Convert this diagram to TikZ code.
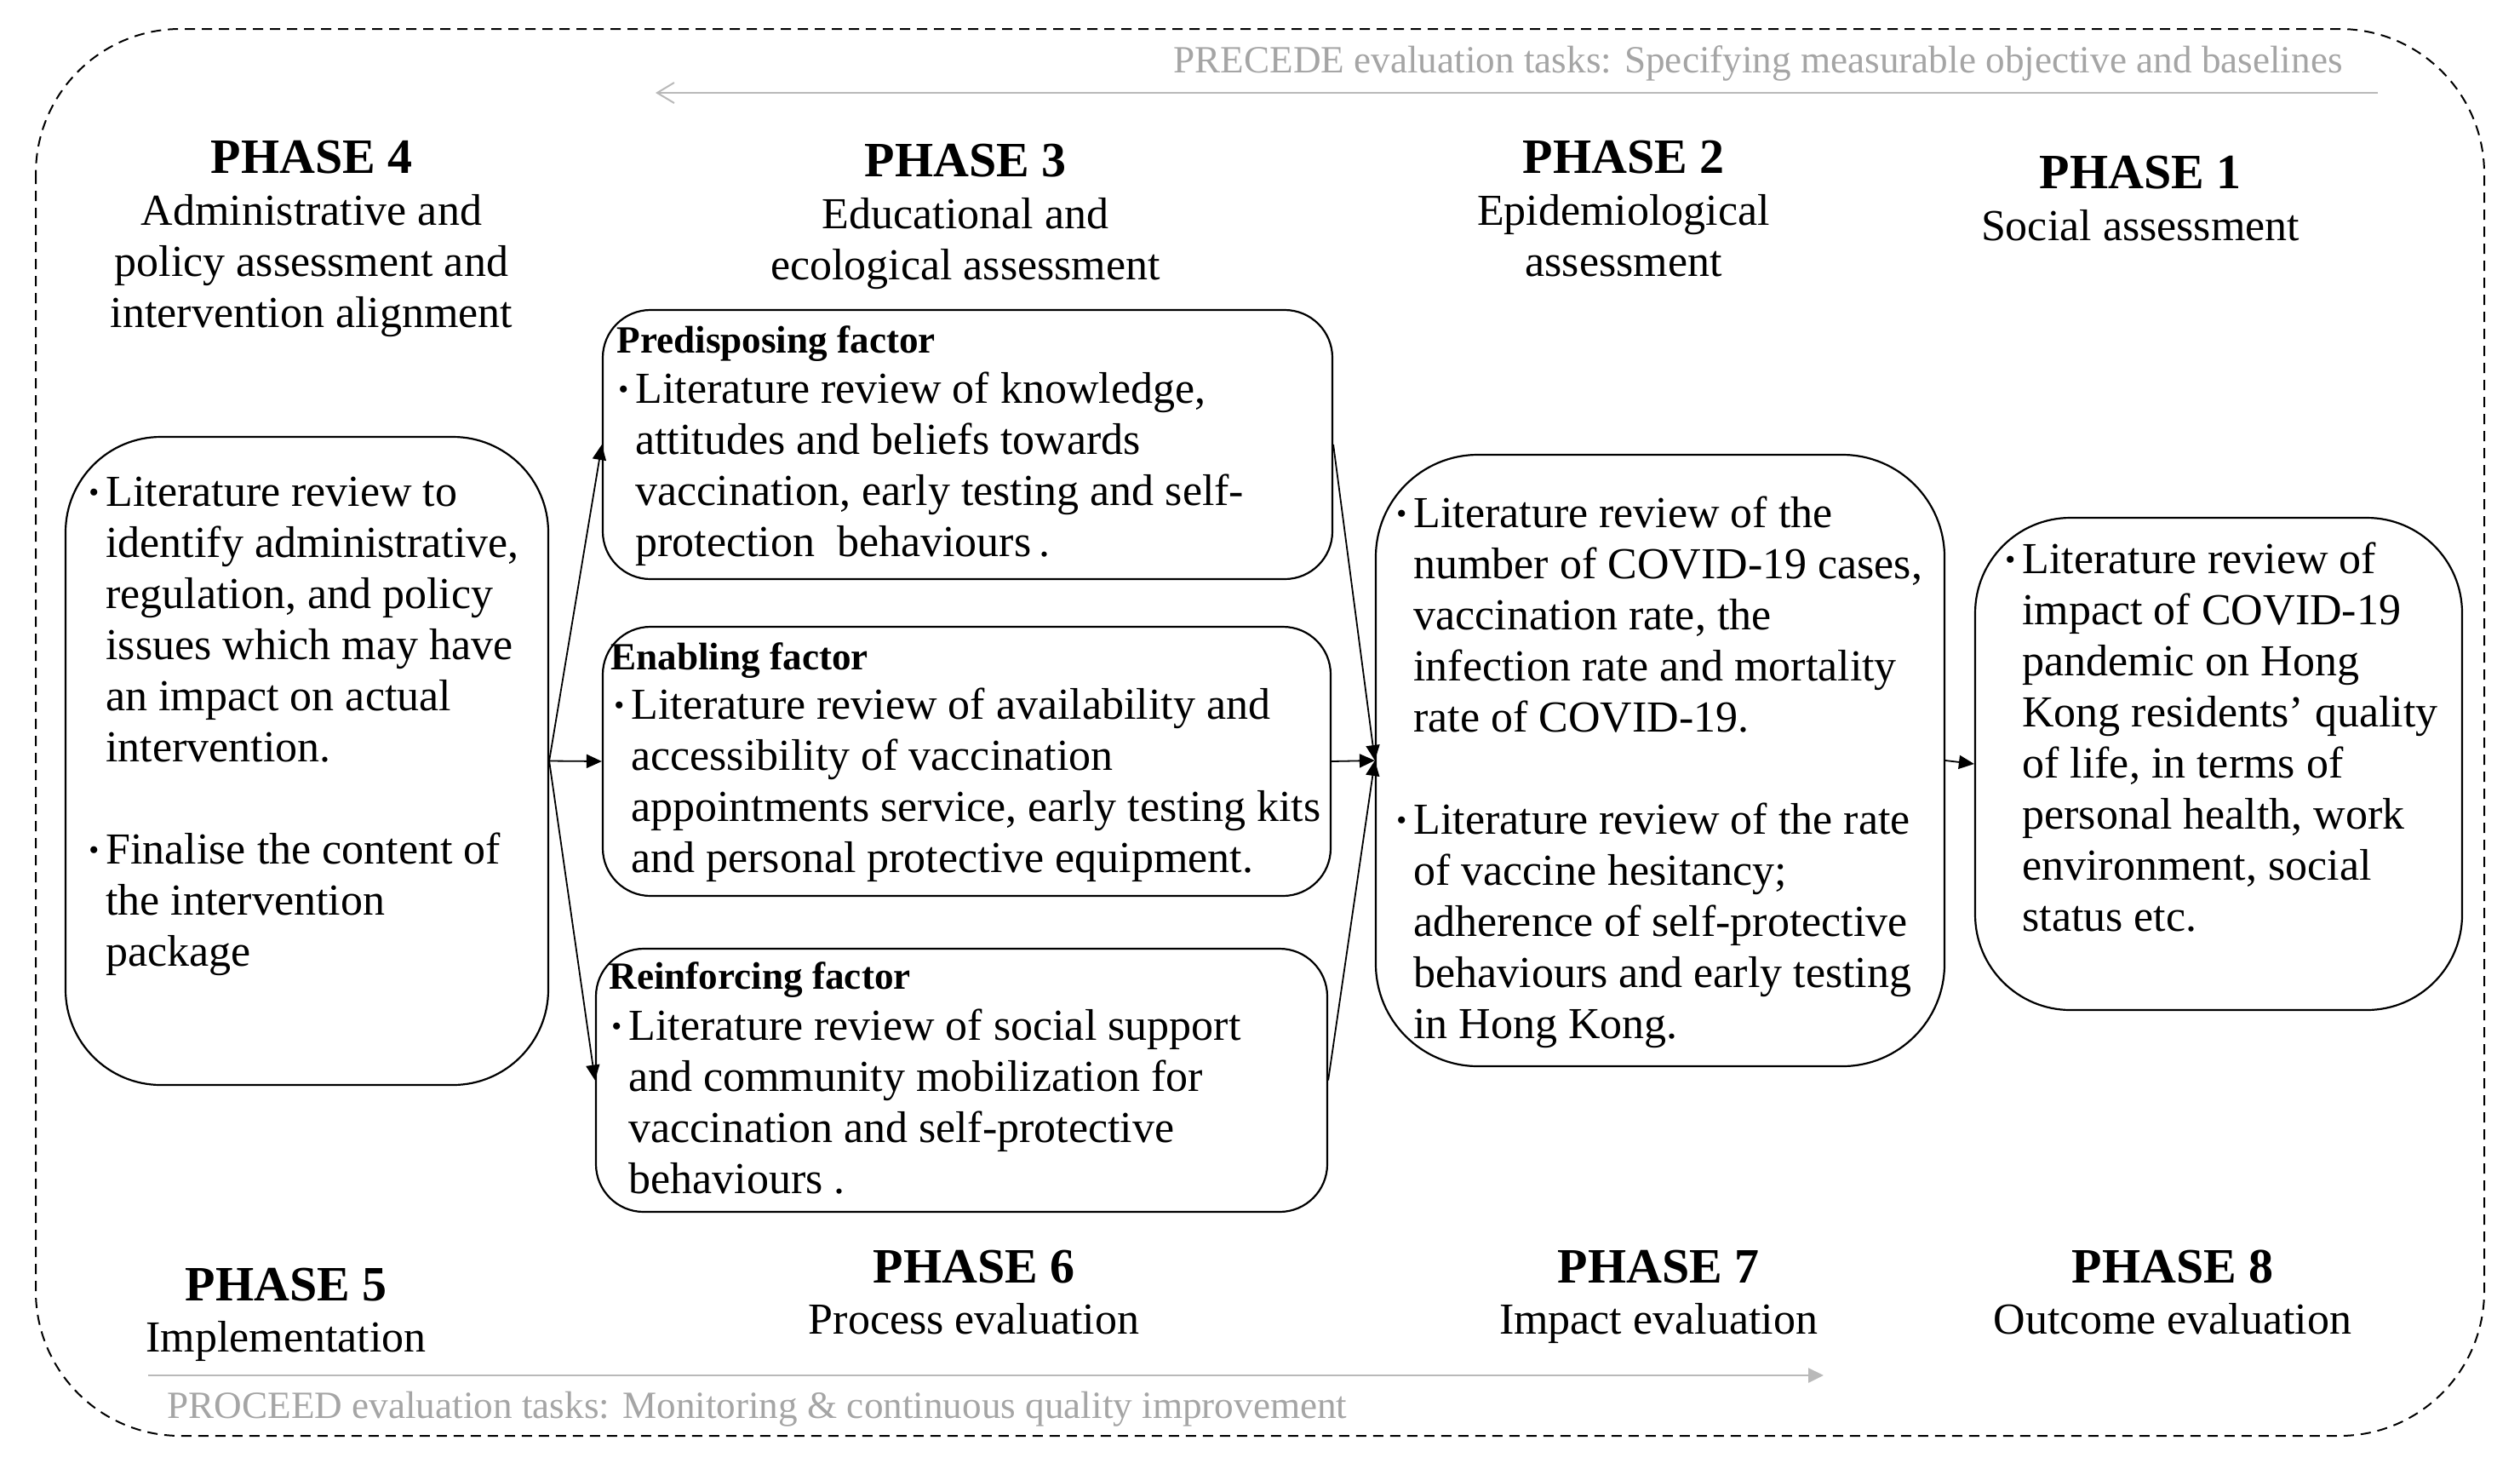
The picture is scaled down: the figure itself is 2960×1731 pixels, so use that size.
\documentclass[tikz,border=0pt]{standalone}
\usepackage{fontspec}
\setmainfont{Liberation Serif}
\usetikzlibrary{arrows.meta}
\definecolor{gtext}{RGB}{165,165,165}
\definecolor{gline}{RGB}{185,185,185}
\newcommand\fbody{\fontsize{26pt}{30pt}\selectfont}
\newcommand\fhead{\fontsize{29pt}{30pt}\selectfont\bfseries}
\newcommand\fsmall{\fontsize{22.6pt}{27pt}\selectfont}
\newcommand\bulx{\makebox[10pt][l]{\raisebox{2.5pt}{\fontsize{17pt}{17pt}\selectfont\textbullet}}}
\newcommand\indx{\hspace*{10pt}}
\newcommand\fst{\rule{0pt}{25pt}}
\begin{document}
\begin{tikzpicture}[x=0.5pt,y=-0.5pt,
  box/.style={draw, line width=1.1pt, inner sep=0pt},
  txt/.style={align=left, anchor=north west, yshift=25pt, inner sep=0pt, font=\fbody},
  head/.style={anchor=base, inner sep=0pt, font=\fhead},
  sub/.style={align=center, anchor=north, yshift=25pt, inner sep=0pt, font=\fbody},
  ftitle/.style={anchor=base west, inner sep=0pt, font=\fsmall\bfseries},
  arr/.style={line width=0.9pt, -{Triangle[length=9pt,width=8pt]}},
  gnote/.style={inner sep=0pt, font=\fsmall, text=gtext}]
\useasboundingbox (0,0) rectangle (2960,1731);

% outer dashed frame
\draw[line width=1pt, dash pattern=on 6pt off 4pt, rounded corners=85pt]
  (42,34) rectangle (2918,1686);

% boxes
\node[box, minimum width=283.5pt, minimum height=380.5pt, rounded corners=56pt] (p4box) at (360.5,893.5) {};
\node[box, minimum width=428.5pt, minimum height=158pt, rounded corners=28pt] (predis) at (1136.5,522) {};
\node[box, minimum width=427.5pt, minimum height=158pt, rounded corners=28pt] (enab) at (1135.5,894) {};
\node[box, minimum width=429.5pt, minimum height=154.5pt, rounded corners=28pt] (reinf) at (1129.5,1268.5) {};
\node[box, minimum width=334pt, minimum height=359pt, rounded corners=60pt] (p2box) at (1950,893) {};
\node[box, minimum width=286pt, minimum height=289pt, rounded corners=56pt] (p1box) at (2606,897) {};

% arrows
\draw[arr] (p4box.east) -- (predis.west);
\draw[arr] (p4box.east) -- (enab.west);
\draw[arr] (p4box.east) -- (reinf.west);
\draw[arr] (predis.east) -- (p2box.west);
\draw[arr] (enab.east) -- (p2box.west);
\draw[arr] (reinf.east) -- (p2box.west);
\draw[arr] (p2box.east) -- (p1box.west);

% headings
\node[head] (h4) at (366,203.5) {PHASE 4};
\node[sub] (s4) at (366,264) {\fst Administrative and\\policy assessment and\\intervention alignment};
\node[head] (h3) at (1134,207) {PHASE 3};
\node[sub] (s3) at (1134,268) {\fst Educational and\\ecological assessment};
\node[head] (h2) at (1907,203.5) {PHASE 2};
\node[sub] (s2) at (1907,264) {\fst Epidemiological\\assessment};
\node[head] (h1) at (2514,221) {PHASE 1};
\node[sub] (s1) at (2514,282) {\fst Social assessment};
\node[head] (h5) at (336,1527) {PHASE 5};
\node[sub] (s5) at (336,1587) {\fst Implementation};
\node[head] (h6) at (1144,1506) {PHASE 6};
\node[sub] (s6) at (1144,1566) {\fst Process evaluation};
\node[head] (h7) at (1948,1506) {PHASE 7};
\node[sub] (s7) at (1948,1566) {\fst Impact evaluation};
\node[head] (h8) at (2552,1506) {PHASE 8};
\node[sub] (s8) at (2552,1566) {\fst Outcome evaluation};

% box texts
\node[txt] (t4) at (104,594.4) {\fst\bulx Literature review to\\
\indx identify administrative,\\
\indx regulation, and policy\\
\indx issues which may have\\
\indx an impact on actual\\
\indx intervention.\\[30pt]
\bulx Finalise the content of\\
\indx the intervention\\
\indx package};

\node[ftitle] (tpt) at (724,414) {Predisposing factor};
\node[txt] (tp) at (726,473) {\fst\bulx Literature review of knowledge,\\
\indx attitudes and beliefs towards\\
\indx vaccination, early testing and self-\\
\indx protection\ \ behaviours\,.};

\node[ftitle] (tet) at (717,786) {Enabling factor};
\node[txt] (te) at (721,844) {\fst\bulx Literature review of availability and\\
\indx accessibility of vaccination\\
\indx appointments service, early testing kits\\
\indx and personal protective equipment.};

\node[ftitle] (trt) at (715,1161) {Reinforcing factor};
\node[txt] (tr) at (718,1221) {\fst\bulx Literature review of social support\\
\indx and community mobilization for\\
\indx vaccination and self-protective\\
\indx behaviours\ .};

\node[txt] (t2) at (1640,618.6) {\fst\bulx Literature review of the\\
\indx number of COVID-19 cases,\\
\indx vaccination rate, the\\
\indx infection rate and mortality\\
\indx rate of COVID-19.\\[30pt]
\bulx Literature review of the rate\\
\indx of vaccine hesitancy;\\
\indx adherence of self-protective\\
\indx behaviours and early testing\\
\indx in Hong Kong.};

\node[txt] (t1) at (2355,673.5) {\fst\bulx Literature review of\\
\indx impact of COVID-19\\
\indx pandemic on Hong\\
\indx Kong residents’ quality\\
\indx of life, in terms of\\
\indx personal health, work\\
\indx environment, social\\
\indx status etc.};

% PRECEDE / PROCEED
\coordinate (precS) at (2793,109);
\coordinate (precE) at (770,109);
\draw[gline, line width=1pt, -{Straight Barb[length=10pt,width=12pt]}] (precS) -- (precE);
\node[gnote, anchor=base east] (prectxt) at (2752,85.7) {PRECEDE evaluation tasks: Specifying measurable objective and baselines};
\coordinate (procS) at (174,1615);
\coordinate (procE) at (2142,1615);
\draw[gline, line width=1.2pt, -{Triangle[length=9pt,width=8.5pt]}] (procS) -- (procE);
\node[gnote, anchor=base west] (proctxt) at (196,1665) {PROCEED evaluation tasks: Monitoring \& continuous quality improvement};
\end{tikzpicture}
\end{document}
